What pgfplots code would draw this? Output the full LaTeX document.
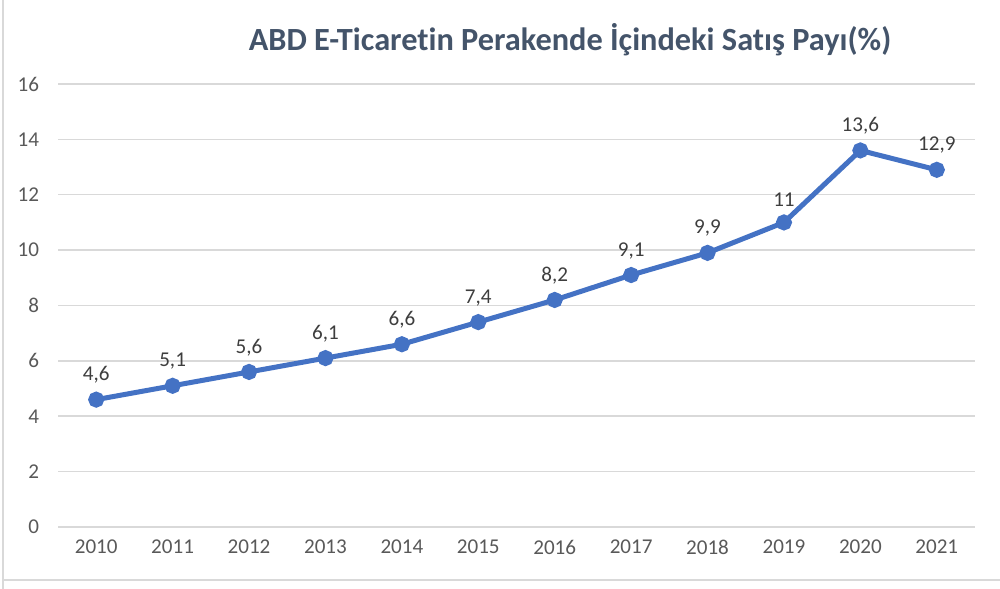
\documentclass[border=0pt]{standalone}
\usepackage{pgfplots}
\pgfplotsset{compat=1.18}
\usepackage{fontspec}
\setmainfont[Ligatures={NoCommon,NoRare}]{Carlito}
\definecolor{linec}{HTML}{4472C4}
\definecolor{gridc}{HTML}{D9D9D9}
\definecolor{tickc}{HTML}{595959}
\definecolor{titlec}{HTML}{44546A}
\newlength\px
\setlength\px{0.25mm}
\begin{document}
\begin{tikzpicture}[x=\px,y=\px]
\useasboundingbox (0,0) rectangle (1000,589);
\draw[gridc, line width=1.5\px] (3,0) -- (3,589);
\draw[gridc, line width=1.5\px] (3,9) -- (1000,9);
\node[font=\fontsize{23}{27}\selectfont\bfseries, text=titlec] at (570,549) {ABD E-Ticaretin Perakende İçindeki Satış Payı(\%)};
\begin{axis}[
  at={(58\px,62\px)}, anchor=south west,
  scale only axis, width=917\px, height=443\px,
  xmin=-0.5, xmax=11.5, ymin=0, ymax=16,
  xtick={0,...,11},
  xticklabels={2010,2011,2012,2013,2014,2015,2016,2017,2018,2019,2020,2021},
  ytick={0,2,...,16},
  axis x line*=bottom,
  axis y line*=left,
  x axis line style={gridc, line width=1.5\px, -},
  y axis line style={draw=none},
  ymajorgrids, grid style={gridc, line width=1.5\px},
  major tick length=0pt,
  tick style={draw=none},
  ticklabel style={font=\fontsize{15}{17}\selectfont, text=tickc},
  /pgf/number format/assume math mode=true,
  xticklabel style={yshift=-8\px},
  yticklabel style={xshift=-14\px},
  clip=false,
  nodes near coords,
  point meta=explicit symbolic,
  nodes near coords style={font=\fontsize{15}{17}\selectfont, text=tickc!70!black, yshift=9\px, anchor=south},
]
\addplot[linec, line width=5\px, mark=*, mark size=5.5\px, mark options={fill=linec, draw=linec}]
  table[meta=lab] {
x y lab
0 4.6 4,6
1 5.1 5,1
2 5.6 5,6
3 6.1 6,1
4 6.6 6,6
5 7.4 7,4
6 8.2 8,2
7 9.1 9,1
8 9.9 9,9
9 11 11
10 13.6 13,6
11 12.9 12,9
};
\end{axis}
\end{tikzpicture}
\end{document}
